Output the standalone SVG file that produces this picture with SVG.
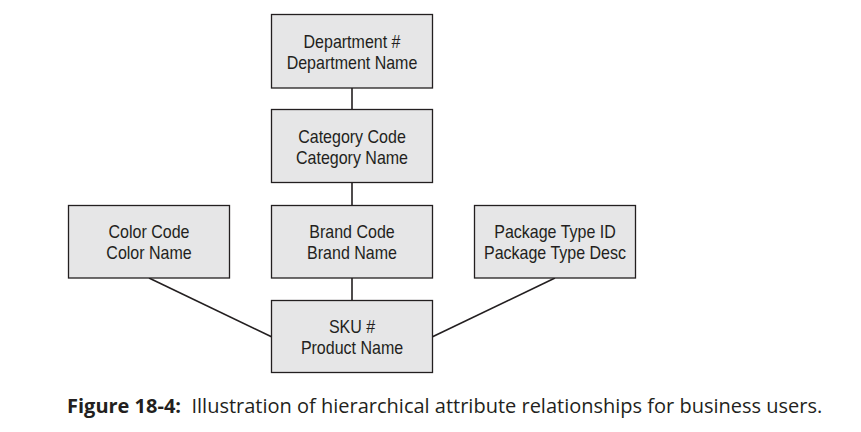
<svg xmlns="http://www.w3.org/2000/svg" width="861" height="432" viewBox="0 0 861 432">
<style>
.box{fill:#e6e6e7;stroke:#231f20;stroke-width:1.3}
.t{font-family:"Liberation Sans",Arial,sans-serif;font-size:18px;fill:#231f20;text-anchor:middle}
.c{stroke:#231f20;stroke-width:1.6;fill:none}
.cap{font-family:"Open Sans","Noto Sans",sans-serif;font-size:20px;fill:#231f20}
</style>
<rect width="861" height="432" fill="#fff"/>
<g id="connectors">
<line class="c" x1="352" y1="88" x2="352" y2="109"/>
<line class="c" x1="352" y1="182" x2="352" y2="205"/>
<line class="c" x1="352" y1="278" x2="352" y2="300"/>
<line class="c" x1="149" y1="278" x2="272" y2="337"/>
<line class="c" x1="555" y1="278" x2="432" y2="337"/>
</g>
<g id="department">
<rect class="box" x="271.5" y="14.5" width="161" height="73.5"/>
<g transform="translate(352,0) scale(0.89,1)">
<text class="t" x="0" y="48">Department #</text>
<text class="t" x="0" y="69">Department Name</text>
</g>
</g>
<g id="category">
<rect class="box" x="271.5" y="109.5" width="161" height="73"/>
<g transform="translate(352,0) scale(0.89,1)">
<text class="t" x="0" y="143">Category Code</text>
<text class="t" x="0" y="164">Category Name</text>
</g>
</g>
<g id="color">
<rect class="box" x="68.5" y="205.5" width="161" height="72.5"/>
<g transform="translate(149,0) scale(0.89,1)">
<text class="t" x="0" y="238">Color Code</text>
<text class="t" x="0" y="259">Color Name</text>
</g>
</g>
<g id="brand">
<rect class="box" x="271.5" y="205.5" width="161" height="72.5"/>
<g transform="translate(352,0) scale(0.89,1)">
<text class="t" x="0" y="238">Brand Code</text>
<text class="t" x="0" y="259">Brand Name</text>
</g>
</g>
<g id="package">
<rect class="box" x="474.5" y="205.5" width="161" height="72.5"/>
<g transform="translate(555,0) scale(0.89,1)">
<text class="t" x="0" y="238">Package Type ID</text>
<text class="t" x="0" y="259">Package Type Desc</text>
</g>
</g>
<g id="sku">
<rect class="box" x="271.5" y="300.5" width="161" height="72"/>
<g transform="translate(352,0) scale(0.89,1)">
<text class="t" x="0" y="333">SKU #</text>
<text class="t" x="0" y="354">Product Name</text>
</g>
</g>
<text class="cap" x="67" y="413" xml:space="preserve"><tspan font-weight="bold">Figure 18-4:</tspan>  Illustration of hierarchical attribute relationships for business users.</text>
</svg>
